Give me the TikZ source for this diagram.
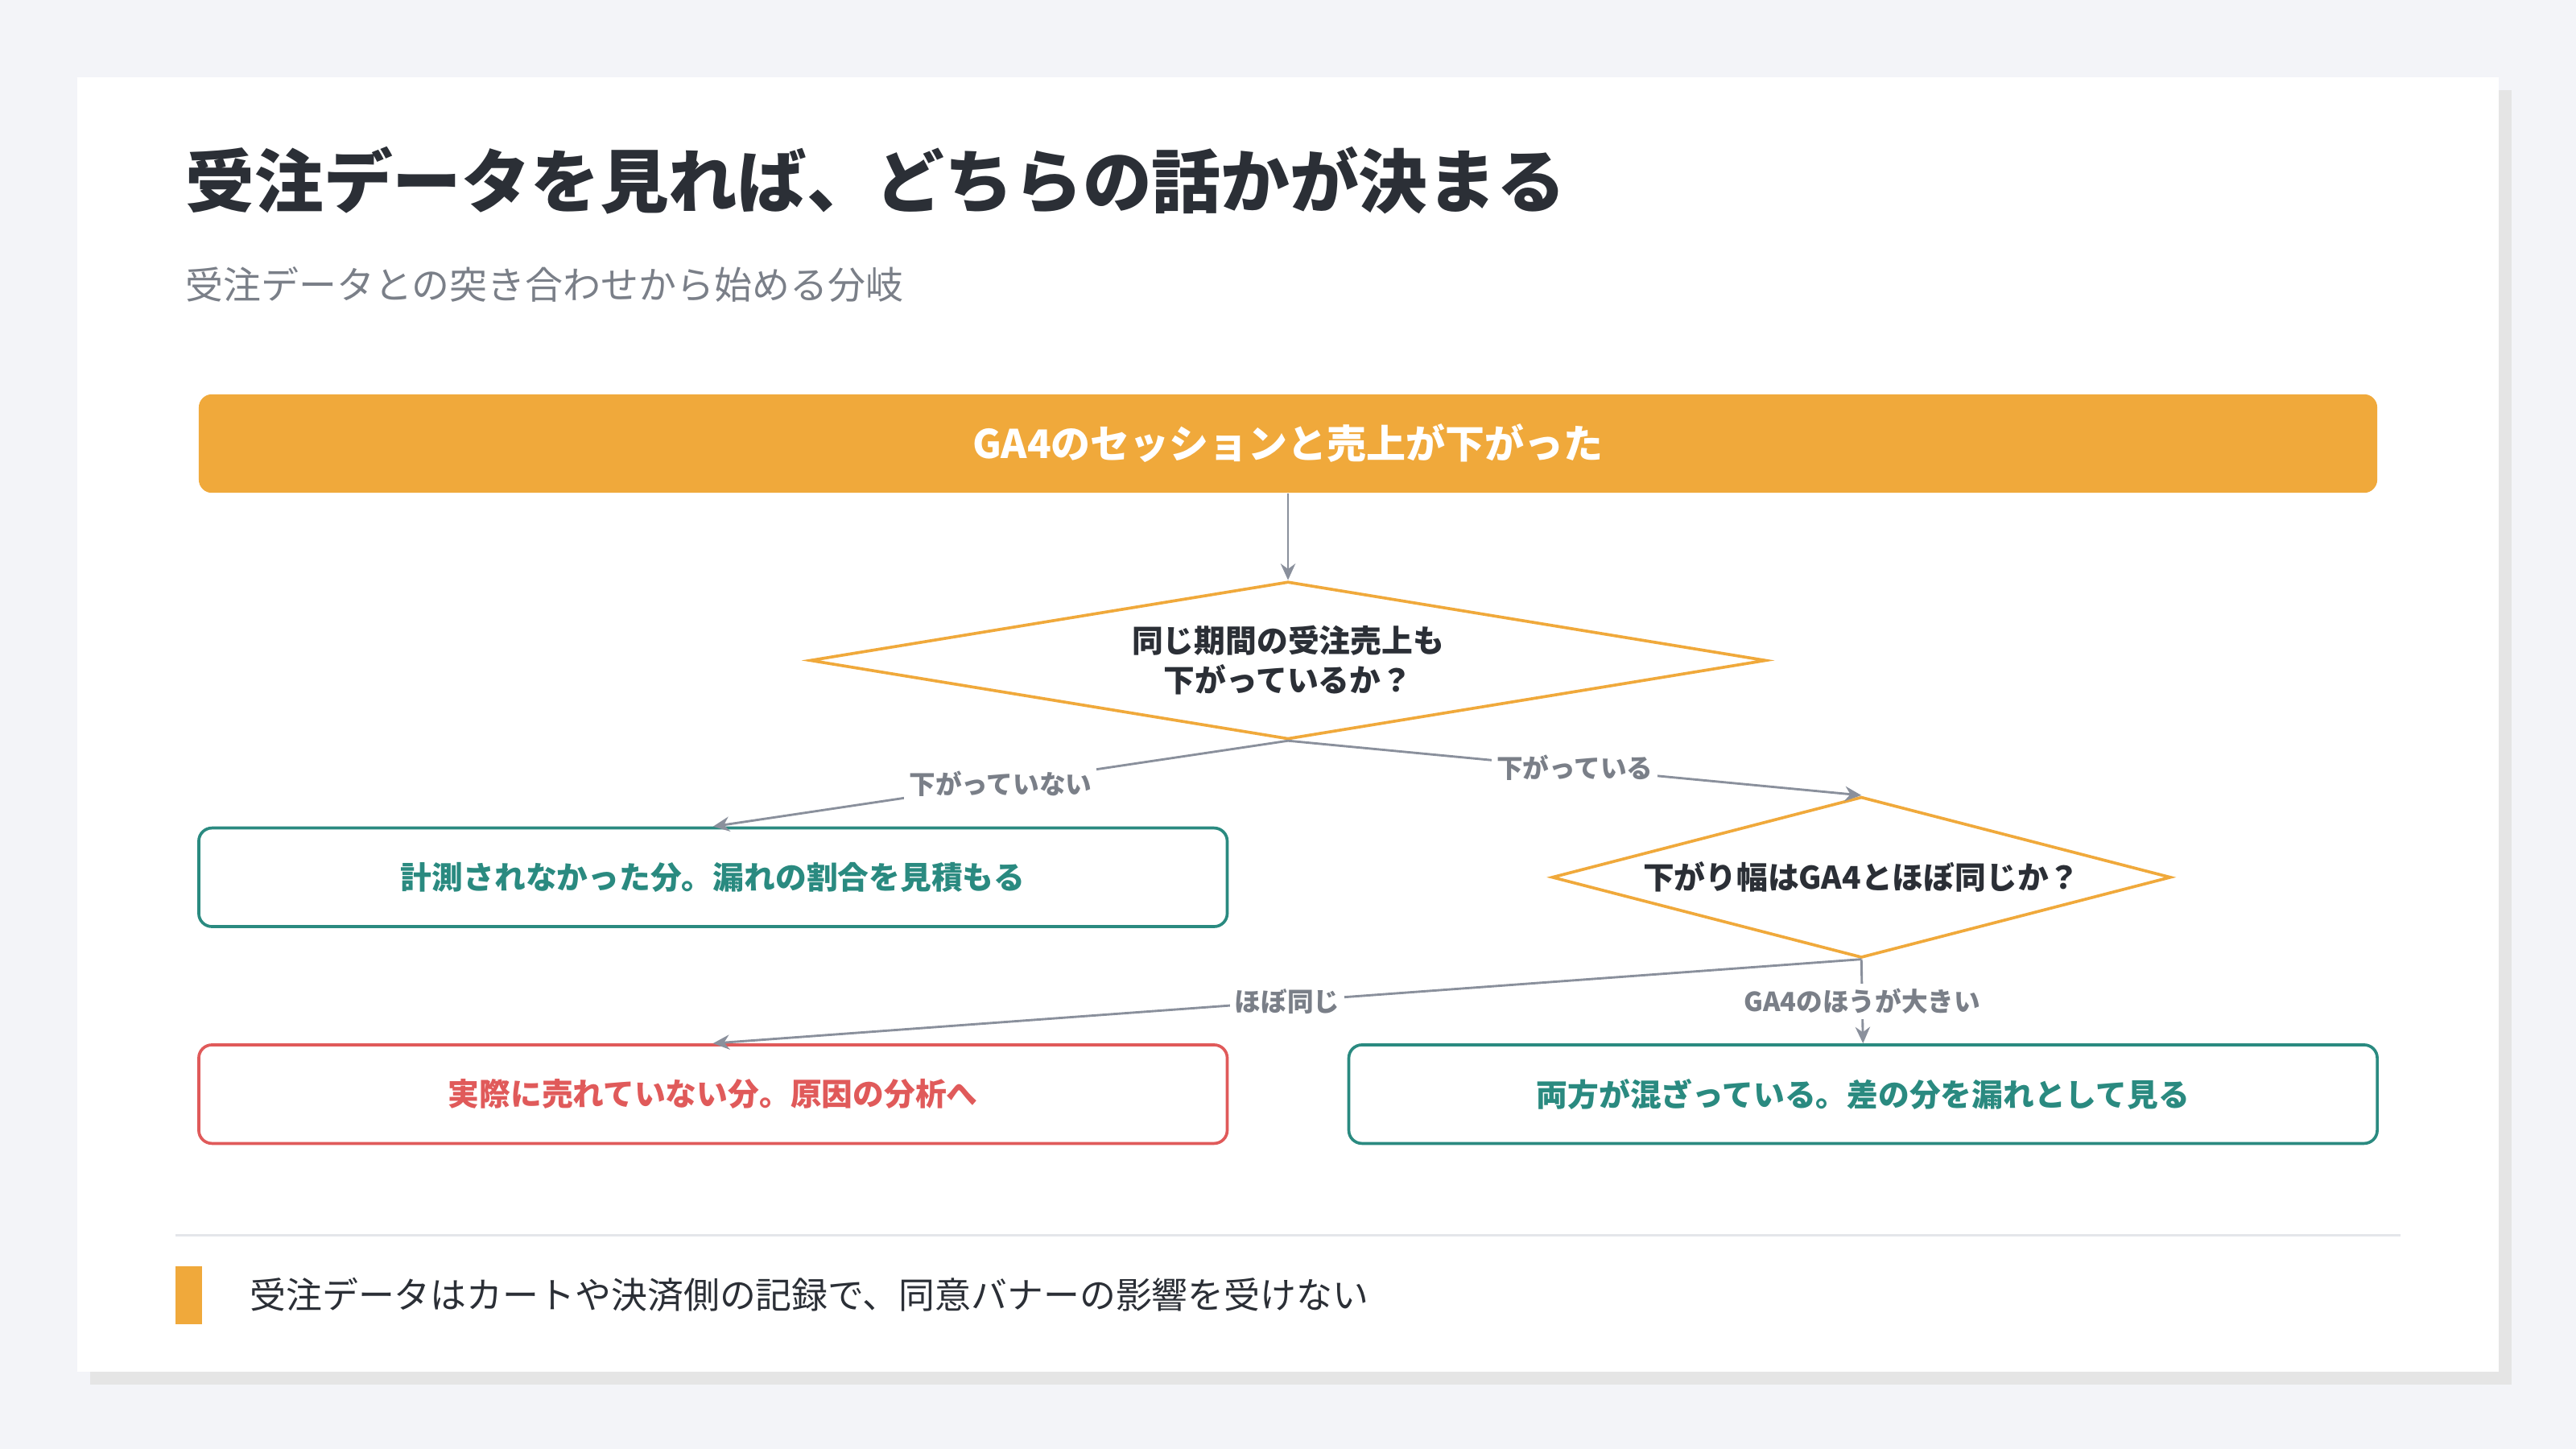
\documentclass[tikz,border=0pt]{standalone}
\usepackage{fontspec}
\setmainfont{Noto Sans CJK JP}
\usepackage{tikz}
\usetikzlibrary{arrows.meta,shapes.geometric,positioning}
\definecolor{pagebg}{HTML}{F3F4F8}
\definecolor{ink}{HTML}{2B2F36}
\definecolor{subink}{HTML}{7A7F88}
\definecolor{accent}{HTML}{F0A93B}
\definecolor{teal}{HTML}{2A8A80}
\definecolor{alert}{HTML}{E05A5A}
\definecolor{wire}{HTML}{8A909C}
\definecolor{rule}{HTML}{E4E6EA}
\begin{document}
\begin{tikzpicture}
[
x=0.5pt,y=-0.5pt,
start/.style={rectangle, rounded corners=4pt, fill=accent, text=white, font=\bfseries\fontsize{12}{14}\selectfont, minimum width=663pt, minimum height=30pt},
question/.style={diamond, draw=accent, line width=0.9pt, fill=white, aspect=6, inner sep=0pt, font=\bfseries\fontsize{9.5}{12}\selectfont, text=ink, align=center},
result/.style={rectangle, rounded corners=4pt, draw=#1, line width=0.9pt, fill=white, text=#1, font=\bfseries\fontsize{9.5}{11}\selectfont, minimum width=313pt, minimum height=30pt},
link/.style={draw=wire, line width=0.7pt, -{Stealth[length=5pt,width=4.5pt]}},
tag/.style={fill=white, text=subink, font=\bfseries\fontsize{8}{10}\selectfont, inner sep=1.5pt}
]
%Background and card
\fill[pagebg] (0,0) rectangle (1568,882);
\fill[black!10] (55,55) rectangle (1529,843);
\fill[white] (47,47) rectangle (1521,835);

%Heading
\node[anchor=west, text=ink, font=\bfseries\fontsize{21}{24}\selectfont] (title) at (106,110) {受注データを見れば、どちらの話かが決まる};
\node[anchor=west, text=subink, font=\fontsize{11.5}{14}\selectfont] (subtitle) at (106,173) {受注データとの突き合わせから始める分岐};

%Nodes
\node[start]    (drop)    at (784,270)  {GA4のセッションと売上が下がった};
\node[question, minimum width=291pt, minimum height=48pt] (orders) at (784,402) {同じ期間の受注売上も\\下がっているか？};
\node[result=teal]  (missed)  at (434,534)  {計測されなかった分。漏れの割合を見積もる};
\node[question, minimum width=183pt, minimum height=49pt] (ratio) at (1133,534) {下がり幅はGA4とほぼ同じか？};
\node[result=alert] (real)    at (434,666)  {実際に売れていない分。原因の分析へ};
\node[result=teal]  (mixed)   at (1134,666) {両方が混ざっている。差の分を漏れとして見る};

%Lines
\draw[link] (drop.south) -- (orders.north);
\draw[link] (orders.south) -- node[tag, pos=0.5] {下がっていない} (missed.north);
\draw[link] (orders.south) -- node[tag, pos=0.5] {下がっている} (ratio.north);
\draw[link] (ratio.south) -- node[tag, pos=0.5] {ほぼ同じ} (real.north);
\draw[link] (ratio.south) -- node[tag, pos=0.5] {GA4のほうが大きい} (mixed.north);

%Footer
\draw[rule, line width=0.6pt] (107,752) -- (1461,752);
\fill[accent] (107,771) rectangle (123,806);
\node[anchor=west, text=ink, font=\fontsize{11}{13}\selectfont] (note) at (145,788) {受注データはカートや決済側の記録で、同意バナーの影響を受けない};
\end{tikzpicture}
\end{document}
